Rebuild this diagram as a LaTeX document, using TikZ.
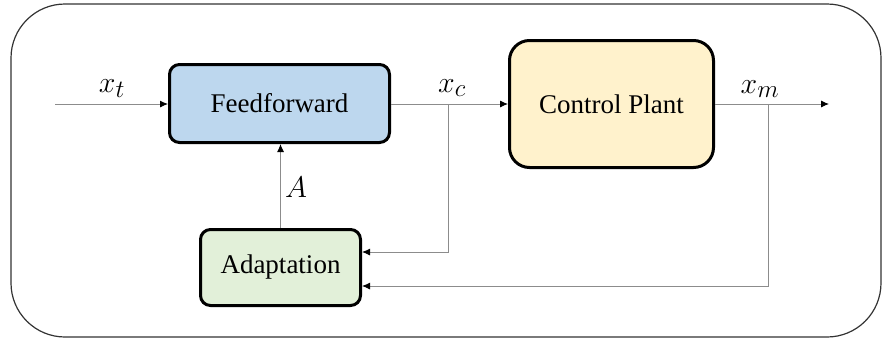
\documentclass[tikz,border=0pt]{standalone}
\usepackage{fontspec}
\setmainfont{Liberation Serif}
\usetikzlibrary{arrows.meta,calc}
\definecolor{ffblue}{HTML}{BDD7EE}
\definecolor{adgreen}{HTML}{E2F0D9}
\definecolor{cpyellow}{HTML}{FFF2CC}
\definecolor{wire}{HTML}{8C8C8C}
\tikzset{
  block/.style={draw=black, line width=3pt, rounded corners=10pt, inner sep=0pt,
    font=\fontsize{27}{32}\selectfont, text=black},
  link/.style={draw=wire, line width=0.9pt, -{Latex[black,length=8pt,width=7pt]}},
  sig/.style={font=\fontsize{24.88}{30}\selectfont, scale=1.2, text=black, inner sep=0pt},
}
\begin{document}
\begin{tikzpicture}[x=1pt,y=-1pt]
  \useasboundingbox (0,0) rectangle (884,341);
  % outer frame
  \draw[black!80, line width=1.2pt, rounded corners=54pt] (11,4) rectangle (881,337);

  % blocks
  \node[block, fill=ffblue, minimum width=220pt, minimum height=78pt] (ff) at (279.5,103.5) {Feedforward};
  \node[block, fill=adgreen, minimum width=160pt, minimum height=76pt] (ad) at (280.5,267.5) {Adaptation};
  \node[block, fill=cpyellow, rounded corners=20pt, minimum width=204pt, minimum height=127pt] (cp) at (611.5,104) {Control Plant};

  % signal points
  \coordinate (in) at (55,104);
  \coordinate (jc) at (448,104);
  \coordinate (jm) at (768,104);
  \coordinate (out) at (829,104);
  \coordinate (adin1) at ($(ad.east)+(0,-15.5)$);
  \coordinate (adin2) at ($(ad.east)+(0,18.5)$);

  % connectors
  \draw[link] (in) -- (ff.west |- in);
  \draw[link] (ff.east |- jc) -- (cp.west |- jc);
  \draw[link] (cp.east |- jm) -- (out);
  \draw[link] (jc) |- (adin1);
  \draw[link] (jm) |- (adin2);
  \draw[link] (ad.north) -- (ff.south -| ad.north);

  % signal labels
  \node[sig] (lxt) at (112,89) {$x_t$};
  \node[sig] (lxc) at (452,88) {$x_c$};
  \node[sig] (lxm) at (760,89) {$x_m$};
  \node[sig] (lA) at (296,187) {$A$};
\end{tikzpicture}
\end{document}
